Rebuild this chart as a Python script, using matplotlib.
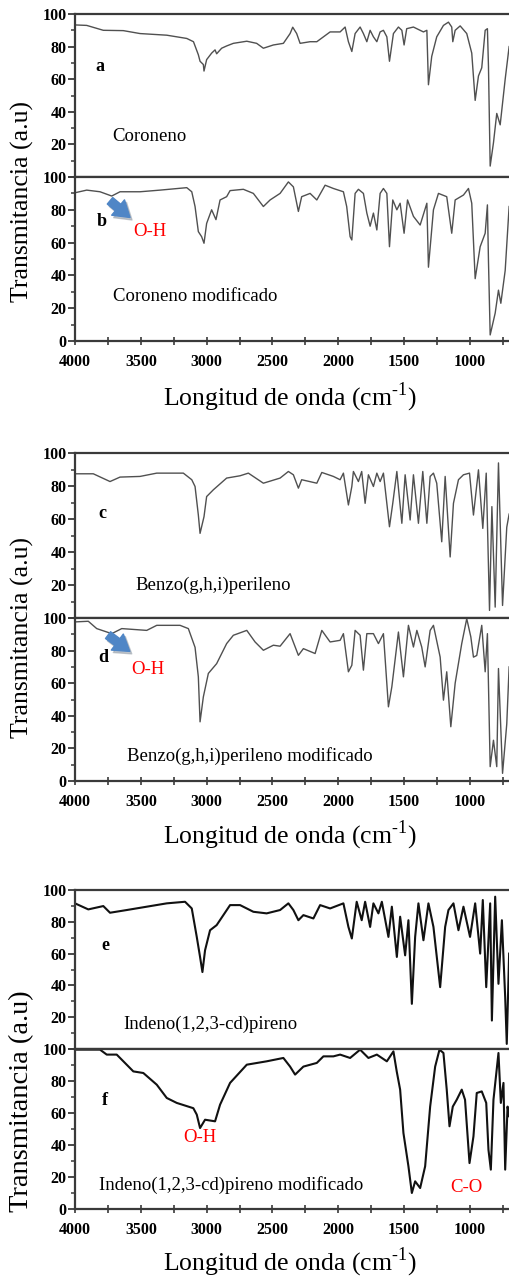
import numpy as np
import matplotlib
matplotlib.use("Agg")
import matplotlib.pyplot as plt

plt.rcParams['font.family'] = ['Liberation Serif', 'DejaVu Serif']
plt.rcParams['mathtext.fontset'] = 'custom'
plt.rcParams['mathtext.rm'] = 'Liberation Serif'

# FTIR spectra (wavenumber cm-1, transmittance %)
wn_a = [4000, 3911, 3785, 3633, 3506, 3303, 3151, 3100, 3063, 3050, 3025, 3020, 3000, 2962, 2936, 2924,
        2886, 2848, 2797, 2695, 2620, 2569, 2493, 2417, 2366, 2346, 2316, 2290, 2214, 2163, 2062, 1986,
        1948, 1923, 1897, 1872, 1834, 1809, 1783, 1758, 1733, 1707, 1682, 1657, 1631, 1611, 1581, 1543,
        1517, 1500, 1480, 1429, 1353, 1327, 1315, 1290, 1252, 1201, 1163, 1138, 1130, 1112, 1074, 1024,
        986, 960, 935, 910, 884, 867, 859, 846, 821, 796, 770, 732, 702]
t_a = [93.3, 93, 90, 89.8, 88, 87, 85, 83, 75, 71, 69, 65, 72, 76, 78, 75.6,
       79, 80.4, 82, 83.3, 82, 79, 81, 82, 88, 91.9, 88, 82, 83, 83, 89, 89,
       92, 83, 77, 88, 92, 88, 83, 90, 86, 83, 89, 90, 86, 71, 88, 92,
       90, 81, 91, 92, 89, 90, 56.6, 74, 86, 93, 95, 92, 83, 90, 92.7, 88,
       76, 47, 62, 67, 90, 91, 68, 6.7, 21, 39, 32, 60, 80]

wn_b = [4000, 3911, 3810, 3721, 3658, 3506, 3354, 3151, 3113, 3088, 3063, 3038, 3020, 3000, 2962, 2929,
        2898, 2848, 2822, 2721, 2645, 2569, 2518, 2442, 2379, 2341, 2303, 2278, 2214, 2163, 2100, 2037,
        1961, 1936, 1910, 1897, 1872, 1847, 1809, 1783, 1758, 1733, 1707, 1682, 1657, 1631, 1611, 1586,
        1555, 1530, 1500, 1474, 1429, 1378, 1327, 1315, 1277, 1239, 1176, 1138, 1112, 1049, 1011, 986,
        960, 922, 884, 867, 859, 846, 808, 783, 765, 732, 702]
t_b = [90.4, 92, 91, 88.4, 91, 91, 92, 93.5, 91, 82, 66.7, 63.6, 59.6, 71.7, 80, 74,
       86, 88, 91.7, 92.5, 90, 82, 86, 90, 97, 94, 79, 88, 90, 86, 95, 93,
       91, 82, 63.6, 61.6, 90, 92.5, 90, 78, 70, 78, 67.7, 90, 93, 90, 57.5, 86,
       80, 84, 65.7, 86, 76, 70.7, 84, 45, 80, 90, 88, 65.7, 86, 89, 93, 84,
       38, 57.5, 65.7, 83, 49, 3.7, 17, 31, 23, 43, 82]

wn_c = [4000, 3861, 3734, 3658, 3506, 3379, 3177, 3113, 3088, 3063, 3050, 3020, 3000, 2949, 2848, 2746,
        2683, 2569, 2442, 2379, 2341, 2303, 2278, 2163, 2125, 2037, 1986, 1961, 1923, 1897, 1885, 1847,
        1822, 1796, 1771, 1733, 1707, 1682, 1657, 1611, 1586, 1555, 1517, 1492, 1454, 1429, 1391, 1358,
        1327, 1302, 1277, 1252, 1214, 1188, 1150, 1125, 1087, 1049, 1003, 973, 935, 902, 876, 851,
        833, 808, 783, 752, 720, 702]
t_c = [87.4, 87.4, 82.7, 85.4, 85.8, 87.8, 87.8, 83.8, 79.7, 62.4, 51.3, 61.4, 73.6, 77.7, 84.8, 86.2,
       87.8, 81.7, 84.8, 88.8, 86.8, 78.7, 83.8, 81.7, 88.2, 85.8, 83.8, 87.8, 68.5, 79.7, 88.8, 82.7,
       88.8, 69.5, 86.8, 79.7, 87.8, 82.7, 87.8, 55.3, 69.5, 88.8, 57.4, 86.8, 59.4, 86.8, 57.4, 88.8,
       57.4, 85.8, 87.8, 81.7, 46.2, 85.8, 37, 69.5, 83.8, 86.8, 87.8, 62.4, 89.8, 54.3, 87.8, 4.6,
       67.5, 6.6, 94, 7.6, 55, 63]

wn_d = [4000, 3899, 3835, 3721, 3645, 3455, 3379, 3202, 3139, 3088, 3063, 3050, 3025, 2987, 2924, 2848,
        2797, 2695, 2632, 2569, 2493, 2442, 2366, 2303, 2265, 2176, 2125, 2062, 1986, 1961, 1923, 1897,
        1872, 1834, 1809, 1783, 1733, 1695, 1657, 1619, 1593, 1543, 1505, 1467, 1429, 1403, 1366, 1340,
        1302, 1277, 1226, 1201, 1176, 1145, 1112, 1062, 1024, 993, 973, 948, 910, 884, 867, 846,
        821, 796, 783, 752, 720, 702]
t_d = [97.6, 98, 93.5, 90.4, 93.5, 92.4, 95.5, 95.5, 93.5, 82, 63.9, 36.3, 51.6, 66, 72, 84.3,
       89.4, 92.4, 85.3, 80.2, 83.3, 82.7, 90.4, 77.1, 81.2, 78.2, 92.4, 85.3, 86.3, 90.4, 67, 71,
       92.4, 89.4, 68, 90.4, 90.4, 84.3, 90.4, 45.5, 57.8, 91.4, 63.9, 95.5, 82.2, 92.4, 82.2, 70,
       92.4, 95.5, 76, 49.6, 67, 33.3, 60, 84.3, 99.6, 88.4, 76, 77, 95.5, 67, 90.4, 8.8,
       25, 8.8, 69, 4.7, 35, 70]

wn_e = [4000, 3899, 3785, 3734, 3607, 3455, 3303, 3164, 3113, 3075, 3050, 3032, 3012, 2974, 2924, 2873,
        2822, 2746, 2645, 2544, 2442, 2379, 2341, 2303, 2265, 2189, 2138, 2062, 1961, 1923, 1897, 1860,
        1822, 1796, 1758, 1733, 1695, 1669, 1619, 1593, 1555, 1530, 1492, 1467, 1441, 1416, 1391, 1353,
        1315, 1277, 1226, 1188, 1163, 1125, 1087, 1049, 999, 960, 922, 902, 876, 846, 833, 808,
        783, 757, 732, 720, 702]
t_e = [91.6, 87.8, 89.9, 85.7, 87.4, 89.5, 91.6, 92.6, 88.4, 70.5, 57.9, 48.4, 62.1, 74.7, 77.9, 84.2,
       90.5, 90.5, 86.3, 85.3, 87.4, 91.6, 87.4, 81, 84.2, 82.1, 90.5, 88.4, 91.6, 76.8, 69.5, 92.6,
       81, 92.6, 76.8, 91.6, 85.3, 92.6, 70.5, 89.5, 57.9, 83.2, 58.9, 81, 28.4, 70.5, 91.6, 68.4,
       91.6, 76.8, 38.9, 76.8, 87.4, 91.6, 74.7, 89.5, 70.5, 91.6, 60, 93.7, 38.9, 91.6, 17.9, 95.8,
       41, 81, 32.6, 3.2, 60]

wn_f = [4000, 3810, 3759, 3683, 3557, 3481, 3379, 3303, 3227, 3101, 3075, 3050, 3012, 2936, 2898, 2822,
        2695, 2544, 2417, 2366, 2328, 2265, 2163, 2113, 2037, 1986, 1910, 1834, 1771, 1707, 1631, 1581,
        1556, 1530, 1505, 1467, 1441, 1416, 1378, 1340, 1302, 1264, 1231, 1201, 1176, 1155, 1130, 1100,
        1062, 1037, 1003, 973, 948, 910, 876, 859, 841, 821, 783, 765, 745, 732, 714, 702]
t_f = [99.6, 99.6, 96.5, 96.5, 86, 85, 77.7, 69.4, 66.3, 63, 59, 50.6, 55.8, 54.8, 65.2, 78.8,
       90.2, 92.3, 94.4, 89, 84, 89, 91.3, 95.4, 95.4, 96.5, 94.4, 99.6, 94.4, 96.5, 92.3, 98.5,
       86, 74.6, 47.5, 26.7, 10, 17.3, 13.1, 26.7, 64, 89, 99.6, 97.5, 74.6, 51.7, 64, 68.3,
       74.6, 68.3, 28.7, 45.4, 72.5, 73.5, 66.3, 37, 24.6, 68.3, 97.5, 66.3, 78.8, 24.6, 64, 58]

letters = ['a', 'b', 'c', 'd', 'e', 'f']
names = ['Coroneno', 'Coroneno modificado',
         'Benzo(g,h,i)perileno', 'Benzo(g,h,i)perileno modificado',
         'Indeno(1,2,3-cd)pireno', 'Indeno(1,2,3-cd)pireno modificado']
spectra = [(wn_a, t_a), (wn_b, t_b), (wn_c, t_c), (wn_d, t_d), (wn_e, t_e), (wn_f, t_f)]

W, H = 509, 1280
fig = plt.figure(figsize=(W / 100, H / 100), dpi=100)

# panel pixel extents (top, bottom) for each spectrum
panel_px = [(14, 177), (177, 341), (453, 618), (618, 781), (890, 1049), (1049, 1209)]
x_left = 75 / W
xlabel_y = [397, 835, 1262]
ylabel_y = [202, 638, 1101]
ylabel_size = [18.5, 18.5, 20.5]

# where the letter and the name sit inside each panel
letter_pos = [(3810, 68), (3795, 72.8), (3795, 63.5), (3785, 76), (3772, 65), (3772, 68)]
name_pos = [(3719, 25), (3711, 27), (3544, 20), (3605, 15.5), (3635, 15.4), (3817, 15.2)]

spine_col = '#3a3a3a'
axes = []
for i, (top, bot) in enumerate(panel_px):
    ax = fig.add_axes([x_left, 1 - bot / H, 1 - x_left, (bot - top) / H])
    axes.append(ax)
    wn, t = spectra[i]
    thick = i >= 4
    ax.plot(wn, t, color='#111111' if thick else '#505050', lw=1.5 if thick else 1.0)
    ax.set_xlim(4000, 703)
    ax.set_ylim(0, 100)
    ax.spines['right'].set_visible(False)
    for s in ['left', 'top', 'bottom']:
        ax.spines[s].set_color(spine_col)
        ax.spines[s].set_linewidth(1.6)
    ax.set_xticks(np.arange(4000, 700, -500))
    ax.set_xticks(np.arange(4000, 700, -250), minor=True)
    ax.set_yticks(np.arange(0, 101, 20))
    ax.set_yticks(np.arange(0, 101, 10), minor=True)
    ax.tick_params(axis='y', which='major', direction='out', length=5, width=1.3,
                   color=spine_col, labelsize=11.5, pad=1)
    ax.tick_params(axis='y', which='minor', direction='out', length=3, width=1.1, color=spine_col)
    if i % 2 == 0:
        ax.set_yticklabels(['', '20', '40', '60', '80', '100'], fontweight='bold')
        ax.tick_params(axis='x', which='both', direction='out', length=4, width=1.2,
                       color=spine_col, labelbottom=False)
    else:
        ax.tick_params(axis='x', which='both', direction='inout', length=6, width=1.2,
                       color=spine_col, labelsize=11.5, pad=6)
        ax.set_xticklabels([str(v) for v in range(4000, 700, -500)], fontweight='bold')
        ax.set_yticklabels(['0', '20', '40', '60', '80', '100'], fontweight='bold')

    lx, ly = letter_pos[i]
    ax.text(lx, ly, letters[i], fontsize=13, fontweight='bold', ha='center', va='center')
    nx, ny = name_pos[i]
    ax.text(nx, ny, names[i], fontsize=13.5, ha='left', va='center')

# O-H arrows on the modified coronene and benzoperylene spectra
arrow_style = 'simple,head_width=0.9,head_length=0.7,tail_width=0.38'
for ax, start, end, lab in [(axes[1], (3719, 84), (3567, 73.8), (3430, 66.7)),
                            (axes[3], (3734, 88), (3569, 78), (3445, 68.4))]:
    ax.annotate('', xy=end, xytext=start,
                arrowprops=dict(arrowstyle=arrow_style, color='#9aa3ad', alpha=0.6,
                                mutation_scale=16, shrinkA=0, shrinkB=0))
    ax.annotate('', xy=(end[0] + 15, end[1] + 1.5), xytext=(start[0] + 15, start[1] + 1.5),
                arrowprops=dict(arrowstyle=arrow_style, color='#4f86c6',
                                mutation_scale=16, shrinkA=0, shrinkB=0))
    ax.text(lab[0], lab[1], 'O-H', color='red', fontsize=13.5, ha='center', va='center')

axes[5].text(3050, 44.4, 'O-H', color='red', fontsize=13.5, ha='center', va='center')
axes[5].text(1030, 13.5, 'C-O', color='red', fontsize=13.5, ha='center', va='center')

for g in range(3):
    fig.text(0.57, 1 - xlabel_y[g] / H, r'Longitud de onda (cm$^{\text{-1}}$)',
             fontsize=18.5, ha='center', va='center')
    fig.text(22 / W, 1 - ylabel_y[g] / H, 'Transmitancia (a.u)', rotation=90,
             fontsize=ylabel_size[g], ha='center', va='center')

fig.savefig('out.png', dpi=100)
